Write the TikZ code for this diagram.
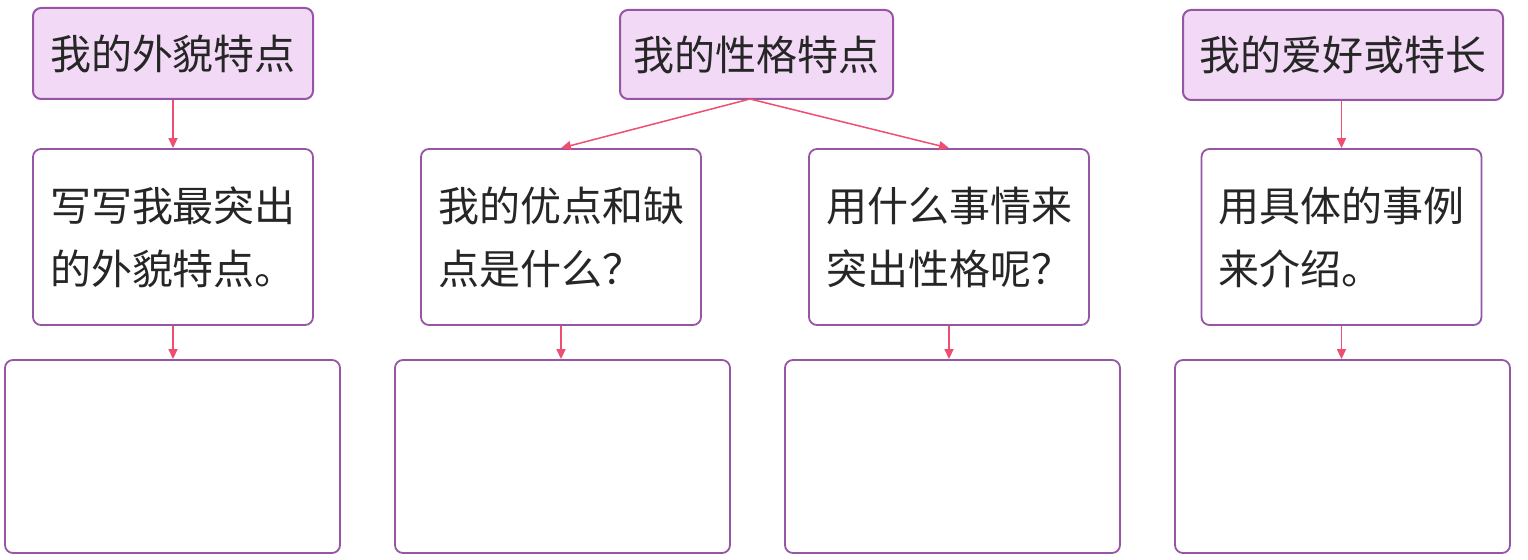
\documentclass[tikz,border=0pt]{standalone}
\usepackage{fontspec}
\setmainfont{Noto Sans CJK SC}
\usetikzlibrary{arrows.meta}
\definecolor{bordc}{RGB}{150,85,165}
\definecolor{hdrfill}{RGB}{242,218,246}
\definecolor{arrc}{RGB}{238,78,112}
\tikzset{
  hdr/.style={draw=bordc, fill=hdrfill, line width=1pt, rounded corners=4pt, inner sep=0pt,
    font=\fontsize{20.5pt}{24pt}\selectfont, text=black!85},
  qbox/.style={draw=bordc, fill=white, line width=0.9pt, rounded corners=4pt, inner sep=0pt,
    minimum width=140pt, minimum height=88pt, align=left,
    font=\fontsize{20.5pt}{31.5pt}\selectfont, text=black!85},
  ebox/.style={draw=bordc, line width=0.9pt, rounded corners=4pt, inner sep=0pt,
    minimum width=167.5pt, minimum height=96.5pt},
  conn/.style={draw=arrc, line width=0.75pt, -{Triangle[length=5pt,width=4.5pt]}}
}
\begin{document}
\begin{tikzpicture}[x=0.5pt,y=-0.5pt]
\useasboundingbox (0,0) rectangle (1528,560);
% headers
\node[hdr, minimum width=140pt, minimum height=45.5pt] (h1) at (173,53.5) {我的外貌特点};
\node[hdr, minimum width=136.5pt, minimum height=44.5pt] (h2) at (756.5,54.5) {我的性格特点};
\node[hdr, minimum width=160pt, minimum height=45pt] (h3) at (1343,55) {我的爱好或特长};
% question boxes
\node[qbox] (q1) at (173,237) {写写我最突出\\的外貌特点。};
\node[qbox] (q2) at (561,237) {我的优点和缺\\点是什么？};
\node[qbox] (q3) at (949,237) {用什么事情来\\突出性格呢？};
\node[qbox] (q4) at (1341.5,237) {用具体的事例\\来介绍。};
% empty boxes
\node[ebox] (e1) at (172.5,456.5) {};
\node[ebox] (e2) at (562.5,456.5) {};
\node[ebox] (e3) at (952.5,456.5) {};
\node[ebox] (e4) at (1342.5,456.5) {};
% connectors
\coordinate (h2b) at (750,99);
\draw[conn] (h1.south) -- (q1.north);
\draw[conn] (h2b) -- (q2.north);
\draw[conn] (h2b) -- (q3.north);
\draw[conn] (h3.south -| q4.north) -- (q4.north);
\draw[conn] (q1.south) -- (q1.south |- e1.north);
\draw[conn] (q2.south) -- (q2.south |- e2.north);
\draw[conn] (q3.south) -- (q3.south |- e3.north);
\draw[conn] (q4.south) -- (q4.south |- e4.north);
\end{tikzpicture}
\end{document}
